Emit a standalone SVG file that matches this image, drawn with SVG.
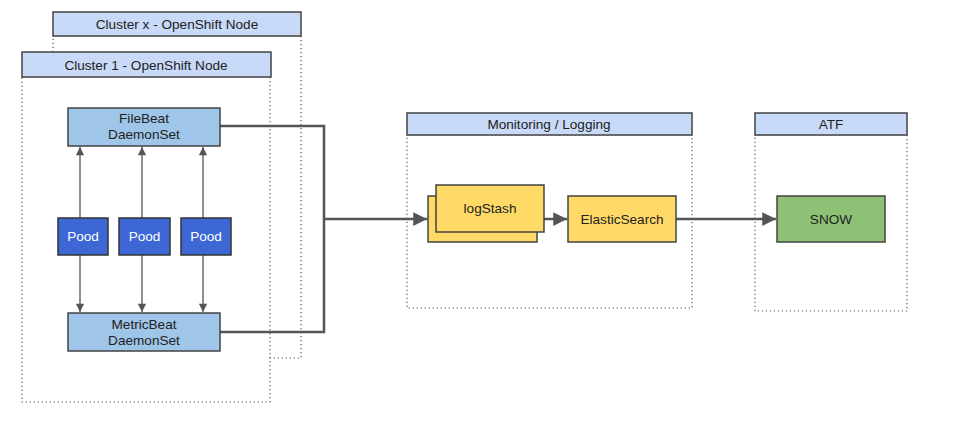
<svg xmlns="http://www.w3.org/2000/svg" width="959" height="421" viewBox="0 0 959 421">
<defs>
<style>
.hdr{fill:#c9daf8;stroke:#434343;stroke-width:1.5}
.area{fill:#ffffff;stroke:#595959;stroke-width:1.2;stroke-dasharray:1.2 2.8}
.ds{fill:#9fc5e8;stroke:#434343;stroke-width:1.5}
.pod{fill:#3c67d4;stroke:#333333;stroke-width:1.5}
.yel{fill:#ffd966;stroke:#434343;stroke-width:1.5}
.grn{fill:#8cc176;stroke:#434343;stroke-width:1.5}
text{font-family:"Liberation Sans",Arial,sans-serif;font-size:13.6px;fill:#222;text-anchor:middle}
.w{fill:#ffffff}
.thin{fill:none;stroke:#6b6b6b;stroke-width:1.5}
.thick{fill:none;stroke:#555555;stroke-width:2.5}
</style>
<marker id="ah" viewBox="0 0 10 10" refX="10" refY="5" markerWidth="5.5" markerHeight="6" markerUnits="strokeWidth" orient="auto">
<path d="M0,0 L10,5 L0,10 z" fill="#555555"/>
</marker>
<marker id="ahs" viewBox="0 0 10 10" refX="10" refY="5" markerWidth="6" markerHeight="5.5" markerUnits="strokeWidth" orient="auto">
<path d="M0,0 L10,5 L0,10 z" fill="#555555"/>
</marker>
</defs>
<rect width="959" height="421" fill="#ffffff"/>

<g id="cluster-x">
<rect class="area" x="53" y="36" width="248" height="322"/>
<rect class="hdr" x="53" y="12" width="248" height="24"/>
<text x="177" y="29">Cluster x - OpenShift Node</text>
</g>

<g id="cluster-1">
<rect class="area" x="22" y="77" width="248" height="325"/>
<rect class="hdr" x="22" y="52" width="249" height="25"/>
<text x="146" y="70">Cluster 1 - OpenShift Node</text>
</g>

<g id="monitoring-logging">
<rect class="area" x="407" y="135" width="285" height="173"/>
<rect class="hdr" x="407" y="113" width="285" height="22"/>
<text x="549" y="129">Monitoring / Logging</text>
</g>

<g id="atf">
<rect class="area" x="755" y="135" width="152" height="176"/>
<rect class="hdr" x="755" y="113" width="152" height="22"/>
<text x="831" y="129">ATF</text>
</g>

<g id="connectors">
<path class="thin" d="M80,218 V147" marker-end="url(#ahs)"/>
<path class="thin" d="M142,218 V147" marker-end="url(#ahs)"/>
<path class="thin" d="M203,218 V147" marker-end="url(#ahs)"/>
<path class="thin" d="M80,255 V312" marker-end="url(#ahs)"/>
<path class="thin" d="M142,255 V312" marker-end="url(#ahs)"/>
<path class="thin" d="M203,255 V312" marker-end="url(#ahs)"/>
<path class="thick" d="M220,126 H324 V332 H220"/>
<path class="thick" d="M324,219 H427" marker-end="url(#ah)"/>
<path class="thick" d="M544,219 H567" marker-end="url(#ah)"/>
<path class="thick" d="M676,219 H776" marker-end="url(#ah)"/>
</g>

<g id="filebeat">
<rect class="ds" x="68" y="108" width="152" height="38"/>
<text x="144" y="123">FileBeat</text>
<text x="144" y="139">DaemonSet</text>
</g>

<g id="metricbeat">
<rect class="ds" x="68" y="313" width="152" height="38"/>
<text x="144" y="329">MetricBeat</text>
<text x="144" y="345">DaemonSet</text>
</g>

<g id="pood-1">
<rect class="pod" x="58" y="218" width="50" height="37"/>
<text class="w" x="83" y="241">Pood</text>
</g>
<g id="pood-2">
<rect class="pod" x="119" y="218" width="51" height="37"/>
<text class="w" x="144.5" y="241">Pood</text>
</g>
<g id="pood-3">
<rect class="pod" x="181" y="218" width="50" height="37"/>
<text class="w" x="206" y="241">Pood</text>
</g>

<g id="logstash">
<rect class="yel" x="428" y="196" width="109" height="46"/>
<rect class="yel" x="436" y="185" width="108" height="47"/>
<text x="490" y="213">logStash</text>
</g>

<g id="elasticsearch">
<rect class="yel" x="568" y="196" width="108" height="46"/>
<text x="622" y="224">ElasticSearch</text>
</g>

<g id="snow">
<rect class="grn" x="777" y="196" width="108" height="46"/>
<text x="831" y="224">SNOW</text>
</g>
</svg>
